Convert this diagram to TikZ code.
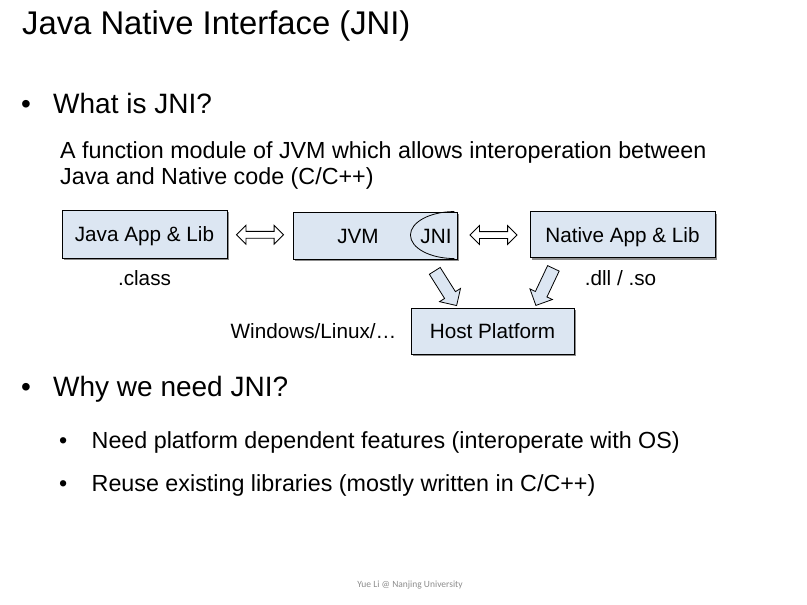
\documentclass[tikz,border=0pt]{standalone}
\usepackage{fontspec}
\setmainfont{Liberation Sans}
\newfontfamily\footfont{Carlito}
\usepackage{tikz}
\usetikzlibrary{shapes,arrows,positioning,shadows,calc}

\definecolor{boxblue}{HTML}{DCE6F2}
\definecolor{footgray}{HTML}{8C8C8C}

\begin{document}
\begin{tikzpicture}[
    x=1pt, y=1pt,
    block/.style={draw, fill=boxblue, line width=0.9pt, inner sep=0pt, text height=15pt, text depth=0pt,
        font=\fontsize{20.7}{24}\selectfont,
        drop shadow={shadow xshift=2.2pt, shadow yshift=-2.2pt, fill=black!45, opacity=1}},
    lbl/.style={inner sep=0pt, text height=15pt, text depth=0pt, font=\fontsize{20.7}{24}\selectfont},
    line/.style={anchor=base west, inner sep=0pt, font=\fontsize{23.3}{26}\selectfont},
    head/.style={anchor=base west, inner sep=0pt, font=\fontsize{28}{32}\selectfont},
    dblarrow/.style={double arrow, draw, fill=white, line width=0.8pt, inner xsep=0pt, inner ysep=3pt,
        minimum height=47pt, double arrow head extend=6pt},
    downarrow/.style={single arrow, draw, fill=boxblue, line width=0.8pt, inner xsep=0pt, inner ysep=6pt,
        minimum height=41pt, single arrow head extend=6pt}
]
    \useasboundingbox (0,0) rectangle (807,-605);

    % title and bullets
    \node (title) [anchor=base west, inner sep=0pt, font=\fontsize{32.8}{36}\selectfont] at (22,-34.7) {Java Native Interface (JNI)};
    \node (b1) [head] at (21,-113.3) {\textbullet};
    \node (what) [head] at (53,-113.3) {What is JNI?};
    \node (def1) [line] at (60,-158.5) {A function module of JVM which allows interoperation between};
    \node (def2) [line] at (60,-184.5) {Java and Native code (C/C++)};

    % diagram
    \node (java) [block, minimum width=165pt, minimum height=48pt] at (144.5,-234) {Java App \& Lib};
    \node (jvm) [block, minimum width=164pt, minimum height=47pt] at (375,-235.5) {};
    \node (native) [block, minimum width=185pt, minimum height=46pt] at (622.5,-234.5) {Native App \& Lib};
    \node (host) [block, minimum width=163pt, minimum height=46pt] at (492.5,-331) {Host Platform};

    \draw [line width=0.8pt] ([xshift=-3pt]jvm.north east) arc[start angle=90, end angle=270, x radius=44pt, y radius=23.5pt];
    \node (jvmtxt) [lbl] at (358,-235.5) {JVM};
    \node (jnitxt) [lbl] at (436,-235.5) {JNI};

    \node (cls) [lbl, below=12pt of java] {.class};
    \node (lib) [lbl, below=12pt of native, xshift=-2pt] {.dll / .so};
    \node (os) [lbl, left=14pt of host] {Windows/Linux/\dots};

    \node (a1) [dblarrow] at ($(java.east)!0.5!(jvm.west)$) {};
    \node (a2) [dblarrow] at ($(jvm.east)!0.5!(native.west)$) {};
    \node (d1) [downarrow, rotate=-57.8] at (444,-285.5) {};
    \node (d2) [downarrow, rotate=-115.3] at (546,-284) {};

    % second bullet
    \node (b2) [head] at (21,-396.7) {\textbullet};
    \node (why) [head] at (53,-396.7) {Why we need JNI?};
    \node (s1) [line] at (59,-448.3) {\textbullet};
    \node (need) [line] at (91.5,-448.3) {Need platform dependent features (interoperate with OS)};
    \node (s2) [line] at (59,-491.7) {\textbullet};
    \node (reuse) [line] at (91.5,-491.7) {Reuse existing libraries (mostly written in C/C++)};

    \node (foot) [inner sep=0pt, text=footgray, font=\footfont\fontsize{9.5}{11}\selectfont] at (410,-585) {Yue Li @ Nanjing University};
\end{tikzpicture}
\end{document}
